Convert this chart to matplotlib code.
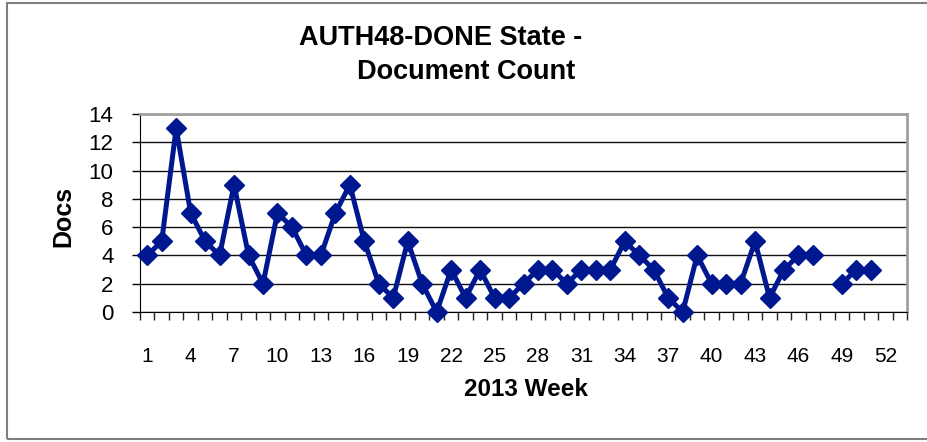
import numpy as np
import matplotlib
matplotlib.use("Agg")
from matplotlib import pyplot as plt
from matplotlib.patches import Rectangle

plt.rcParams['font.family'] = ['Liberation Sans', 'DejaVu Sans']

# weekly AUTH48-DONE document counts (None = no data)
weeks = list(range(1, 54))
docs = [4, 5, 13, 7, 5, 4, 9, 4, 2, 7,
        6, 4, 4, 7, 9, 5, 2, 1, 5, 2,
        0, 3, 1, 3, 1, 1, 2, 3, 3, 2,
        3, 3, 3, 5, 4, 3, 1, 0, 4, 2,
        2, 2, 5, 1, 3, 4, 4, None, 2, 3,
        3, None, None]
week_labels = list(range(1, 53, 3))
y_ticks = list(range(0, 15, 2))

vals = np.array([np.nan if v is None else v for v in docs], dtype=float)

fig = plt.figure(figsize=(9.27, 4.42), dpi=100)
ax = fig.add_axes([140 / 927, 1 - 312 / 442, (907 - 140) / 927, (312 - 114) / 442])

ax.plot(weeks, vals, color='#00188f', lw=3.6, marker='D', ms=10,
        mec='#00188f', mfc='#00188f', zorder=3, clip_on=False)

ax.set_xlim(0.5, 53.5)
ax.set_ylim(0, 14)
ax.set_yticks(y_ticks)
ax.yaxis.grid(True, color='#111111', lw=1.0)
ax.set_axisbelow(True)

ax.set_xticks(week_labels)
ax.set_xticks(np.arange(0.5, 54, 1), minor=True)
ax.tick_params(axis='x', which='major', length=0, pad=25, labelsize=15)
ax.tick_params(axis='x', which='minor', length=6, width=1, color='#222222', direction='out')
ax.tick_params(axis='y', length=6, width=1, direction='out', pad=13, labelsize=16)

for s in ['top', 'right']:
    ax.spines[s].set_color('#a0a0a0')
    ax.spines[s].set_linewidth(2)
ax.spines['left'].set_color('black')
ax.spines['bottom'].set_color('black')

fig.text(63 / 927, 1 - 216 / 442, 'Docs', rotation=90, ha='center', va='center',
         fontsize=18, fontweight='bold')
fig.text(526 / 927, 1 - 390 / 442, '2013 Week', ha='center', va='center',
         fontsize=17.5, fontweight='bold')
fig.text(441 / 927, 1 - 38 / 442, 'AUTH48-DONE State -', ha='center', va='center',
         fontsize=19.5, fontweight='bold')
fig.text(466 / 927, 1 - 72 / 442, 'Document Count', ha='center', va='center',
         fontsize=19.5, fontweight='bold')

# outer chart frame
fig.patches.append(Rectangle((7 / 927, 3 / 442), 1.0, 1 - 6 / 442, transform=fig.transFigure,
                             fill=False, edgecolor='#7f7f7f', lw=1.5))

fig.savefig('out.png', dpi=100)
